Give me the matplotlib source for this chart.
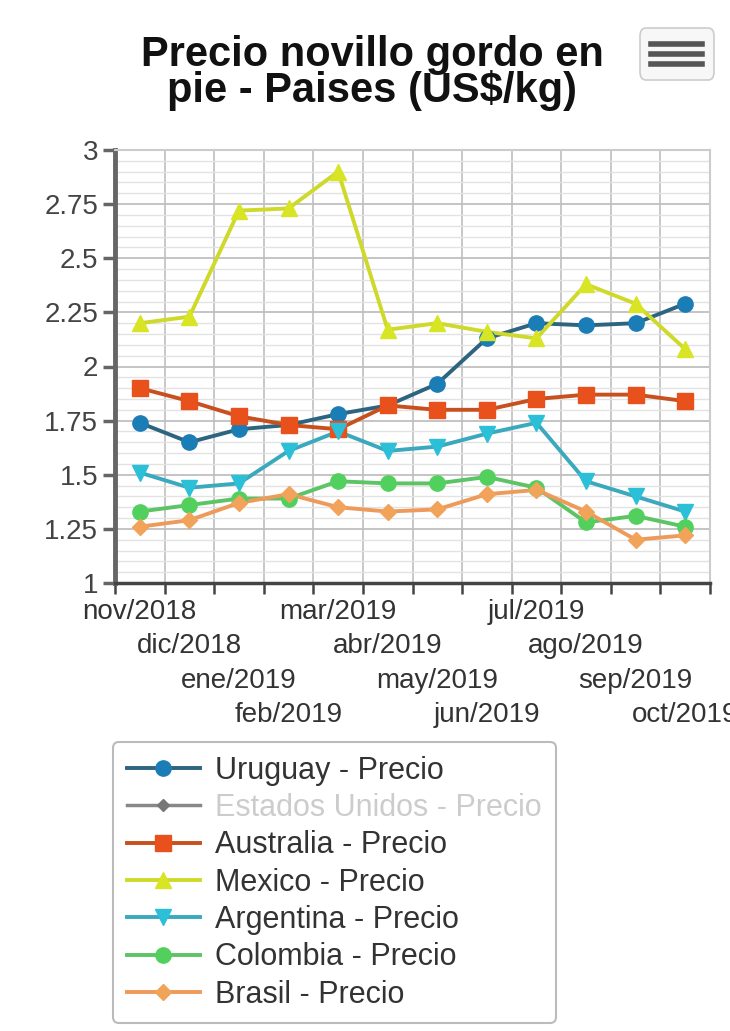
import matplotlib
matplotlib.use("Agg")
import matplotlib.pyplot as plt
from matplotlib.lines import Line2D
from matplotlib.patches import FancyBboxPatch
from matplotlib.ticker import MultipleLocator
import numpy as np

plt.rcParams['font.family'] = ['Liberation Sans', 'DejaVu Sans']

# Datos (US$/kg)
meses = ["nov/2018", "dic/2018", "ene/2019", "feb/2019", "mar/2019", "abr/2019",
         "may/2019", "jun/2019", "jul/2019", "ago/2019", "sep/2019", "oct/2019"]
uruguay = [1.74, 1.65, 1.71, 1.73, 1.78, 1.82, 1.92, 2.13, 2.20, 2.19, 2.20, 2.29]
australia = [1.90, 1.84, 1.77, 1.73, 1.71, 1.82, 1.80, 1.80, 1.85, 1.87, 1.87, 1.84]
mexico = [2.20, 2.23, 2.72, 2.73, 2.90, 2.17, 2.20, 2.16, 2.13, 2.38, 2.29, 2.08]
argentina = [1.51, 1.44, 1.46, 1.61, 1.70, 1.61, 1.63, 1.69, 1.74, 1.47, 1.40, 1.33]
colombia = [1.33, 1.36, 1.39, 1.39, 1.47, 1.46, 1.46, 1.49, 1.44, 1.28, 1.31, 1.26]
brasil = [1.26, 1.29, 1.37, 1.41, 1.35, 1.33, 1.34, 1.41, 1.43, 1.33, 1.20, 1.22]

series = [
    ("Uruguay - Precio", uruguay, "#1a7db5", "#2d6480", "o", 11),
    ("Australia - Precio", australia, "#e8501c", "#c8501e", "s", 11),
    ("Mexico - Precio", mexico, "#d8e524", "#cfd92a", "^", 12),
    ("Argentina - Precio", argentina, "#2cc0d8", "#3aa9bd", "v", 11),
    ("Colombia - Precio", colombia, "#52d05e", "#5cc465", "o", 11),
    ("Brasil - Precio", brasil, "#f2a35a", "#ee9a5a", "D", 8),
]

fig = plt.figure(figsize=(7.3, 10.31), dpi=100)
ax = fig.add_axes([115 / 730, 1 - 583 / 1031, (710 - 115) / 730, (583 - 150) / 1031])

x = np.arange(len(meses))
handles = []
for nombre, valores, color, lcolor, marker, ms in series:
    ax.plot(x, valores, color=lcolor, lw=2.8, zorder=3)
    ax.plot(x, valores, ls="none", marker=marker, ms=ms, color=color,
            markeredgecolor=color, zorder=4)
    handles.append(Line2D([], [], color=lcolor, lw=2.8, marker=marker, ms=ms,
                          markerfacecolor=color, markeredgecolor=color, label=nombre))

# serie oculta (Estados Unidos)
eeuu = Line2D([], [], color="#888888", lw=2.5, marker="D", ms=6,
              markerfacecolor="#777777", markeredgecolor="#777777",
              label="Estados Unidos - Precio")
handles.insert(1, eeuu)

ax.set_xlim(-0.5, len(meses) - 0.5)
ax.set_ylim(1, 3)
ax.yaxis.set_minor_locator(MultipleLocator(0.05))
ax.set_yticks(np.arange(1, 3.01, 0.25))
ax.set_yticklabels(["1", "1.25", "1.5", "1.75", "2", "2.25", "2.5", "2.75", "3"])
ax.set_xticks(np.arange(-0.5, len(meses), 1.0))
ax.set_xticklabels([])

ax.grid(which="major", axis="y", color="#bfbfbf", lw=1.3)
ax.grid(which="minor", axis="y", color="#e2e2e2", lw=1.0)
ax.grid(which="major", axis="x", color="#c4c4c4", lw=1.3)
ax.set_axisbelow(True)

ax.tick_params(axis="y", which="major", length=9, width=2.5, color="#666666",
               labelsize=20, labelcolor="#444444", pad=3)
ax.tick_params(axis="y", which="minor", length=0)
ax.tick_params(axis="x", which="major", length=8, width=1.8, color="#444444")

for lado in ["top", "right"]:
    ax.spines[lado].set_color("#cccccc")
    ax.spines[lado].set_linewidth(1.5)
ax.spines["left"].set_color("#666666")
ax.spines["left"].set_linewidth(3.5)
ax.spines["bottom"].set_color("#444444")
ax.spines["bottom"].set_linewidth(2.5)

# etiquetas escalonadas del eje x
for i, mes in enumerate(meses):
    fila = i % 4
    ax.text(i, -0.066 - fila * 0.08, mes, transform=ax.get_xaxis_transform(),
            ha="center", va="center", fontsize=20, color="#333333", clip_on=False)

fig.text(372 / 730, 1 - 73 / 1031, "Precio novillo gordo en\npie - Paises (US$/kg)",
         ha="center", va="center", fontsize=30, fontweight="bold", color="#111111",
         linespacing=0.85)

# menu icon
fig.patches.append(FancyBboxPatch((640 / 730, 1 - 80 / 1031), 74 / 730, 52 / 1031,
                                  boxstyle="round,pad=0,rounding_size=0.008",
                                  transform=fig.transFigure, facecolor="#f7f7f7",
                                  edgecolor="#cccccc", lw=1.2))
for yy in [44, 54, 64]:
    fig.lines.append(Line2D([651 / 730, 702 / 730], [1 - yy / 1031, 1 - yy / 1031],
                            transform=fig.transFigure, color="#555555", lw=4))

leg = fig.legend(handles=handles, loc="upper left",
                 bbox_to_anchor=(113 / 730, 1 - 742 / 1031), fontsize=22,
                 frameon=True, fancybox=True, edgecolor="#aaaaaa",
                 handlelength=2.4, labelspacing=0.24, borderpad=0.45,
                 handletextpad=0.5, borderaxespad=0)
leg.get_frame().set_linewidth(1.5)
for txt in leg.get_texts():
    txt.set_color("#333333")
leg.get_texts()[1].set_color("#cccccc")

fig.savefig("out.png", dpi=100)
